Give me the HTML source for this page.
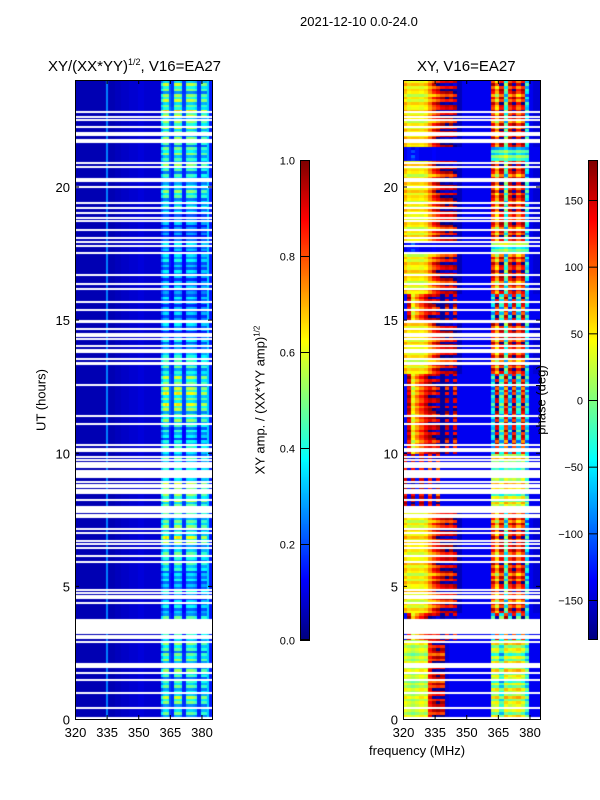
<!DOCTYPE html>
<html><head><meta charset="utf-8">
<style>
body{margin:0;background:#fff;}
#root{position:relative;width:600px;height:800px;background:#fff;font-family:"Liberation Sans","DejaVu Sans",sans-serif;color:#000;overflow:hidden;}
.t{position:absolute;white-space:nowrap;font-size:13px;line-height:13px;}
canvas{position:absolute;}
</style></head><body>
<div id="root">
<div class="t" style="left:300px;top:15px;">2021-12-10 0.0-24.0</div>
<div class="t" style="left:48px;top:59px;font-size:15px;line-height:15px;">XY/(XX*YY)<sup style="font-size:9px;vertical-align:6px;line-height:0">1/2</sup>, V16=EA27</div>
<div class="t" style="left:417px;top:59px;font-size:15px;line-height:15px;">XY, V16=EA27</div>
<div class="t" style="left:41px;top:400px;transform:translate(-50%,-50%) rotate(-90deg);">UT (hours)</div>
<div class="t" style="left:369px;top:744px;">frequency (MHz)</div>
<div class="t" style="left:260px;top:400px;transform:translate(-50%,-50%) rotate(-90deg);">XY amp. / (XX*YY amp)<sup style="font-size:8px;vertical-align:5px;line-height:0">1/2</sup></div>
<canvas id="cL" width="137" height="639" style="left:75px;top:80px;"></canvas>
<canvas id="cR" width="137" height="639" style="left:403px;top:80px;"></canvas>
<canvas id="cb1" width="10" height="480" style="left:300px;top:160px;"></canvas>
<canvas id="cb2" width="10" height="480" style="left:588px;top:160px;"></canvas>
<svg id="ov" width="600" height="800" style="position:absolute;left:0;top:0;"></svg>
<div class="t" style="left:541px;top:400px;transform:translate(-50%,-50%) rotate(-90deg);">phase (deg)</div>
</div>
<script>
// ---- data ----
const freqTicks = [320, 335, 350, 365, 380];
const hourTicks = [0, 5, 10, 15, 20];
const ampTicks = [0.0, 0.2, 0.4, 0.6, 0.8, 1.0];
const phaseTicks = [-150, -100, -50, 0, 50, 100, 150];
// amplitude per 1 MHz channel, 320..384
const ampChan = [0.05,0.05,0.05,0.05,0.05,0.05,0.05,0.05,0.05,0.05,0.05,0.05,0.05,0.05,0.05,0.25,0.05,0.05,0.05,0.06,0.06,0.06,0.07,0.07,0.07,0.07,0.08,0.08,0.08,0.08,0.09,0.09,0.09,0.08,0.08,0.08,0.08,0.08,0.08,0.08,0.08,0.3,0.4,0.42,0.4,0.15,0.12,0.4,0.42,0.42,0.38,0.12,0.12,0.38,0.4,0.4,0.38,0.35,0.12,0.12,0.35,0.36,0.35,0.33,0.15];
// amplitude gain of the bright band per half hour, 0..24 h
const ampGain = [1.0,1.1,1.0,1.0,1.1,1.0,0.9,0.9,0.8,0.8,0.8,0.9,1.0,1.2,1.1,1.3,1.2,1.1,0.9,0.9,0.9,0.8,1.1,1.2,1.3,1.1,1.0,0.9,0.8,0.7,0.7,0.7,0.7,0.7,0.8,0.7,0.6,0.7,0.9,1.0,1.0,1.0,1.1,1.0,1.2,1.3,1.2,1.1];
const ampTex = [1.0,0.7,1.2,0.85,1.1,0.6,1.15,0.9,1.3,0.75];
// phase profiles per 2 MHz channel (deg), 320..386
const phA = [60,40,45,45,40,50,80,110,130,150,160,150,170,-160,-140,-140,-140,-140,-140,-140,-140,120,60,140,-30,120,150,100,140,-60,-140,-150,-150];
const phB = [-140,-130,-120,-130,-140,-140,-140,-135,-140,-140,-140,-140,-140,-140,-140,-140,-140,-140,-140,-140,-140,-40,-30,-20,0,-30,-40,-20,-30,-40,-140,-140,-140];
const phC = [-130,150,40,80,110,140,160,150,170,-170,160,-150,150,-140,-140,-140,-140,-140,-140,-140,-140,-60,150,-40,120,-80,140,-50,130,-60,-140,-140,-140];
const phD = [30,20,10,20,30,20,120,140,150,140,-150,-140,-140,-140,-140,-140,-140,-140,-140,-140,-140,10,20,-40,30,10,20,30,10,-40,-140,-140,-140];
const phF = [150,-140,160,-130,150,-140,130,-150,140,-140,-140,-140,-140,-140,-140,-140,-140,-140,-140,-140,-140,20,30,0,40,20,30,10,40,-30,-140,-140,-140];
// which profile per half hour, 0..24 h
const phSeg = ["D","D","D","D","D","D","C","C","A","A","A","A","A","A","A","A","F","F","F","F","C","C","C","C","C","C","A","A","A","A","C","C","A","A","A","B","A","A","A","A","A","A","B","A","A","A","A","A"];
const phTex = [0,40,-30,20,-50,10,30,-20,50,-10];
// flagged (blank) time ranges, hours
const flags = [[0.02,0.08],[0.38,0.46],[0.97,1.03],[1.44,1.5],[1.7,1.76],[1.92,2.1],[2.87,2.93],[3.01,3.07],[3.1,3.15],[3.2,3.76],[4.33,4.39],[4.52,4.58],[4.6,4.65],[4.7,4.76],[4.82,4.88],[5.87,5.95],[6.1,6.16],[6.4,6.46],[6.55,6.61],[6.67,6.73],[6.96,7.02],[7.11,7.17],[7.57,7.63],[7.64,7.7],[7.74,8.0],[8.2,8.26],[8.46,8.52],[8.5,8.56],[8.6,8.64],[8.7,8.74],[8.8,8.84],[8.9,8.94],[9.06,9.36],[9.45,9.49],[9.53,9.57],[9.63,9.67],[9.73,9.77],[9.83,9.87],[10.04,10.19],[10.27,10.33],[11.06,11.12],[11.36,11.42],[12.53,12.59],[13.3,13.4],[13.5,13.56],[13.77,13.83],[13.85,13.9],[13.97,14.03],[14.26,14.32],[14.36,14.5],[14.63,14.69],[14.89,15.0],[15.35,15.41],[15.65,15.71],[16.14,16.2],[16.32,16.38],[16.66,16.72],[17.48,17.55],[17.75,17.81],[17.9,17.96],[18.05,18.12],[18.35,18.41],[18.69,18.75],[18.8,18.86],[18.97,19.03],[19.17,19.23],[19.37,19.43],[19.97,20.03],[20.17,20.23],[20.27,20.33],[20.71,20.77],[20.87,20.93],[21.65,21.8],[21.88,22.03],[22.23,22.29],[22.47,22.53],[22.57,22.63],[22.79,22.85]];

// ---- scales ----
const F0=320,F1=385,H0=0,H1=24;
function xs(f,x0){return x0+(f-F0)/(F1-F0)*137;}
function ys(h){return 719-(h-H0)/(H1-H0)*639;}
function jet(v){v=Math.max(0,Math.min(1,v));
 function c(x){return Math.max(0,Math.min(1,x));}
 const r=c(Math.min(4*v-1.5,-4*v+4.5)),g=c(Math.min(4*v-0.5,-4*v+3.5)),b=c(Math.min(4*v+0.5,-4*v+2.5));
 return 'rgb('+Math.round(r*255)+','+Math.round(g*255)+','+Math.round(b*255)+')';}
const profs={A:phA,B:phB,C:phC,D:phD,F:phF};

const dt=0.1, nRows=240;
function drawPanel(id,x0,valFn){
 const ctx=document.getElementById(id).getContext('2d');
 for(let r=0;r<nRows;r++){
  const h=r*dt;
  for(let c=0;c<ampChan.length;c++){
   const f=F0+c;
   const v=valFn(c,r);
   ctx.fillStyle=jet(v);
   const xa=xs(f,x0)-x0, xb=xs(f+1,x0)-x0;
   const ya=ys(h+dt)-80, yb=ys(h)-80;
   ctx.fillRect(Math.floor(xa),Math.floor(ya),Math.ceil(xb-xa)+1,Math.ceil(yb-ya)+1);
  }
 }
 ctx.fillStyle='#fff';
 for(const fl of flags){const ya=Math.round(ys(fl[1])-80),yb=Math.round(ys(fl[0])-80);ctx.fillRect(0,ya,137,Math.max(2,yb-ya));}
}
drawPanel('cL',75,function(c,r){
 const base=ampChan[c];
 const seg=Math.floor(r/5);
 if(c>=41&&c<=62&&base>0.2) return base*ampGain[seg]*ampTex[r%ampTex.length];
 if(c>=41&&c<=62) return base*ampGain[seg]*1.3;
 return base;
});
drawPanel('cR',403,function(c,r){
 const seg=Math.floor(r/5);
 const p=profs[phSeg[seg]];
 let d=p[Math.floor(c/2)];
 if(d>-130){ const k=phTex[r%phTex.length]; d+= (c<14? k*0.5 : k); }
 d=((d+180)%360+360)%360-180;
 return (d+180)/360;
});
// colorbars
function cbar(id){const ctx=document.getElementById(id).getContext('2d');
 for(let i=0;i<480;i++){ctx.fillStyle=jet(1-i/479);ctx.fillRect(0,i,10,1);} }
cbar('cb1');cbar('cb2');

// ---- axes overlay ----
const svg=document.getElementById('ov');const NS='http://www.w3.org/2000/svg';
function el(tag,attrs,txt){const e=document.createElementNS(NS,tag);for(const k in attrs)e.setAttribute(k,attrs[k]);if(txt!==undefined)e.textContent=txt;svg.appendChild(e);return e;}
function axesFrame(x0,name){
 const fr=el('rect',{x:x0+0.5,y:80.5,width:137,height:639,fill:'none',stroke:'#000','stroke-width':1});
 
 
 freqTicks.forEach(function(f){const x=xs(f,x0)+0.5;
  el('line',{x1:x,x2:x,y1:719,y2:715,stroke:'#000'});
  el('line',{x1:x,x2:x,y1:80,y2:84,stroke:'#000'});
  const t=el('text',{x:x,y:737,'text-anchor':'middle','font-size':13,'font-family':'Liberation Sans, sans-serif'},String(f));
  
  
 });
 hourTicks.forEach(function(h){const y=ys(h)+0.5;
  el('line',{x1:x0,x2:x0+4,y1:y,y2:y,stroke:'#000'});
  el('line',{x1:x0+137,x2:x0+133,y1:y,y2:y,stroke:'#000'});
  const t=el('text',{x:x0-5,y:y+5,'text-anchor':'end','font-size':13,'font-family':'Liberation Sans, sans-serif'},String(h));
  
  
 });
}
axesFrame(75,'amplitude-axes');axesFrame(403,'phase-axes');
function cbAxes(x0,ticks,lo,hi,fmt,name){
 const fr=el('rect',{x:x0+0.5,y:160.5,width:9,height:479,fill:'none',stroke:'#000'});
 
 
 ticks.forEach(function(v){const y=640-(v-lo)/(hi-lo)*480+0.5;
  el('line',{x1:x0,x2:x0+10,y1:y,y2:y,stroke:'#000'});
  const t=el('text',{x:x0-5,y:y+4,'text-anchor':'end','font-size':11,'font-family':'Liberation Sans, sans-serif'},fmt(v));
  
  
 });
}
cbAxes(300,ampTicks,0,1,function(v){return v.toFixed(1);},'amp-colorbar');
cbAxes(588,phaseTicks,-180,180,function(v){return String(v).replace('-','\u2212');},'phase-colorbar');
</script>
</body></html>
